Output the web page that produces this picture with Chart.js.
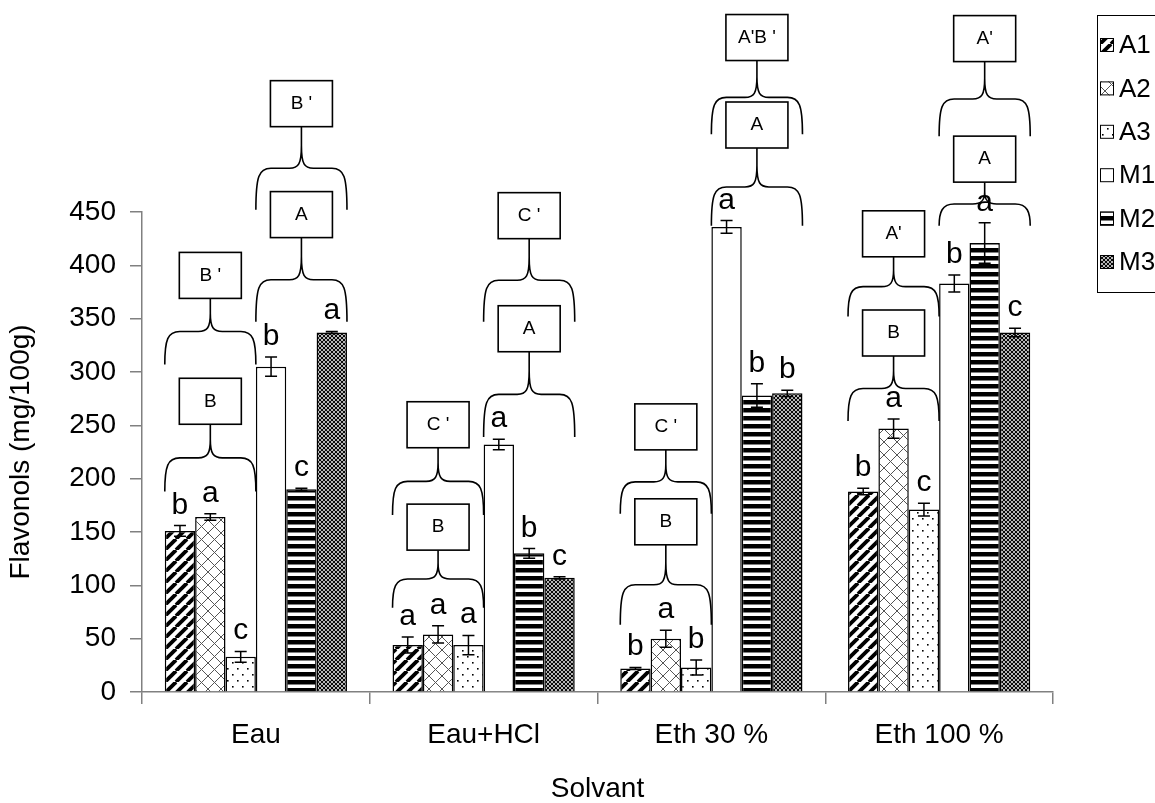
<!DOCTYPE html>
<html>
<head>
<meta charset="utf-8">
<title>Flavonols</title>
<script src="https://cdn.jsdelivr.net/npm/chart.js@4.4.1/dist/chart.umd.min.js"></script>
<style>
  html, body { margin: 0; padding: 0; background: #fff; }
  #wrap { width: 1155px; height: 803px; }
</style>
</head>
<body>
<div id="wrap"><canvas id="chart" width="1155" height="803"></canvas></div>
<script>
// -------------------------
// DATA (mg/100g)
// -------------------------
const categories = ["Eau", "Eau+HCl", "Eth 30 %", "Eth 100 %"];
const seriesNames = ["A1", "A2", "A3", "M1", "M2", "M3"];

const valA1 = [151, 44, 22, 188];
const valA2 = [164, 54, 50, 247];
const valA3 = [33, 44, 23, 171];
const valM1 = [305, 232, 436, 383];
const valM2 = [190, 130, 278, 421];
const valM3 = [337, 107, 280, 337];

const errA1 = [5, 7.5, 1, 3];
const errA2 = [3, 8, 8, 9];
const errA3 = [5, 9, 7, 6];
const errM1 = [9, 5, 6, 8];
const errM2 = [1, 4.5, 11, 19];
const errM3 = [1, 1, 3, 4];

const letA1 = ["b", "a", "b", "b"];
const letA2 = ["a", "a", "a", "a"];
const letA3 = ["c", "a", "b", "c"];
const letM1 = ["b", "a", "a", "b"];
const letM2 = ["c", "b", "b", "a"];
const letM3 = ["a", "c", "b", "c"];

// group labels (A1-A3 and M1-M3), brace base and box bottom levels in mg/100g
const innerA = ["B", "B", "B", "B"];
const innerABase = [188, 79, 63, 254];
const innerABox = [251, 133, 138, 315];
const outerA = ["B '", "C '", "C '", "A'"];
const outerABase = [307, 166, 167, 352];
const outerABox = [369, 229, 227, 408];

const innerM = ["A", "A", "A", "A"];
const innerMBase = [347, 239, 437, 437];
const innerMBox = [426, 319, 510, 478];
const outerM = ["B '", "C '", "A'B '", "A'"];
const outerMBase = [452, 347, 523, 521];
const outerMBox = [530, 425, 592, 591];

const yTicks = [0, 50, 100, 150, 200, 250, 300, 350, 400, 450];

// -------------------------
// Patterns
// -------------------------
const FONT = "'Liberation Sans', Arial, sans-serif";
const axisGray = "#808080";
const ctxMain = document.getElementById("chart").getContext("2d");

function makePattern(w, h, draw) {
  const c = document.createElement("canvas");
  c.width = w; c.height = h;
  const g = c.getContext("2d");
  g.fillStyle = "#fff";
  g.fillRect(0, 0, w, h);
  draw(g, w, h);
  return ctxMain.createPattern(c, "repeat");
}
function diag(g, w, h, up) {
  for (let k = -1; k <= 1; k++) {
    g.beginPath();
    if (up) { g.moveTo(k * w, h); g.lineTo(k * w + w, 0); }
    else { g.moveTo(k * w, 0); g.lineTo(k * w + w, h); }
    g.stroke();
  }
}
const patA1 = makePattern(11, 11, (g, w, h) => { g.strokeStyle = "#000"; g.lineWidth = 3.8; diag(g, w, h, true); });
const patA2 = makePattern(13, 13, (g, w, h) => { g.strokeStyle = "#555"; g.lineWidth = 1; diag(g, w, h, true); diag(g, w, h, false); });
const patA3 = makePattern(10, 12, g => { g.fillStyle = "#000"; g.fillRect(2, 2, 1.6, 1.6); g.fillRect(7, 8, 1.6, 1.6); });
const patM2 = makePattern(6, 8, g => { g.fillStyle = "#000"; g.fillRect(0, 0, 6, 4.5); });
const patM3 = makePattern(4, 4, (g, w, h) => { g.strokeStyle = "#000"; g.lineWidth = 1.1; diag(g, w, h, true); diag(g, w, h, false); });

const values = [valA1, valA2, valA3, valM1, valM2, valM3];
const errors = [errA1, errA2, errA3, errM1, errM2, errM3];
const letters = [letA1, letA2, letA3, letM1, letM2, letM3];
const fills = [patA1, patA2, patA3, "#fff", patM2, patM3];

// -------------------------
// Plugins
// -------------------------
function drawBrace(ctx, x0, x1, yBase, yPeak) {
  const xc = (x0 + x1) / 2;
  const yMid = (yBase + yPeak) / 2;
  const up = (yMid - yPeak) * 0.55;
  ctx.beginPath();
  ctx.moveTo(x0, yBase);
  ctx.bezierCurveTo(x0, yMid + 8, x0 + 3, yMid, x0 + 15, yMid);
  ctx.lineTo(xc - 12, yMid);
  ctx.bezierCurveTo(xc - 3, yMid, xc, yMid - 4, xc, yMid - up);
  ctx.lineTo(xc, yPeak);
  ctx.moveTo(x1, yBase);
  ctx.bezierCurveTo(x1, yMid + 8, x1 - 3, yMid, x1 - 15, yMid);
  ctx.lineTo(xc + 12, yMid);
  ctx.bezierCurveTo(xc + 3, yMid, xc, yMid - 4, xc, yMid - up);
  ctx.stroke();
}

function drawBox(ctx, xc, yBottom, text) {
  const w = 62, h = 46;
  ctx.fillStyle = "#fff";
  ctx.fillRect(xc - w / 2, yBottom - h, w, h);
  ctx.strokeRect(xc - w / 2, yBottom - h, w, h);
  ctx.fillStyle = "#000";
  ctx.font = "19px " + FONT;
  ctx.textAlign = "center";
  ctx.textBaseline = "middle";
  ctx.fillText(text, xc, yBottom - h / 2);
}

const extrasPlugin = {
  id: "extras",
  afterDatasetsDraw(chart) {
    const ctx = chart.ctx;
    const y = chart.scales.y;
    ctx.save();
    ctx.strokeStyle = "#000";
    ctx.lineWidth = 1.5;
    // error bars and letters
    chart.data.datasets.forEach((ds, di) => {
      const meta = chart.getDatasetMeta(di);
      meta.data.forEach((bar, i) => {
        const v = values[di][i], e = errors[di][i];
        const yt = y.getPixelForValue(v + e), yb = y.getPixelForValue(v - e);
        ctx.beginPath();
        ctx.moveTo(bar.x, yt); ctx.lineTo(bar.x, yb);
        ctx.moveTo(bar.x - 6, yt); ctx.lineTo(bar.x + 6, yt);
        ctx.moveTo(bar.x - 6, yb); ctx.lineTo(bar.x + 6, yb);
        ctx.stroke();
        ctx.fillStyle = "#000";
        ctx.font = "30px " + FONT;
        ctx.textAlign = "center";
        ctx.textBaseline = "alphabetic";
        ctx.fillText(letters[di][i], bar.x, yt - 12);
      });
    });
    // braces and boxes
    const groups = [
      { first: 0, last: 2, levels: [[innerA, innerABase, innerABox], [outerA, outerABase, outerABox]] },
      { first: 3, last: 5, levels: [[innerM, innerMBase, innerMBox], [outerM, outerMBase, outerMBox]] }
    ];
    ctx.lineWidth = 1.6;
    categories.forEach((c, i) => {
      groups.forEach(gr => {
        const b0 = chart.getDatasetMeta(gr.first).data[i];
        const b1 = chart.getDatasetMeta(gr.last).data[i];
        const x0 = b0.x - b0.width / 2, x1 = b1.x + b1.width / 2;
        const xc = (x0 + x1) / 2;
        gr.levels.forEach(([labels, base, box]) => {
          ctx.strokeStyle = "#000";
          drawBrace(ctx, x0, x1, y.getPixelForValue(base[i]), y.getPixelForValue(box[i]));
          drawBox(ctx, xc, y.getPixelForValue(box[i]), labels[i]);
        });
      });
    });
    ctx.restore();
  },
  afterDraw(chart) {
    // legend with frame
    const ctx = chart.ctx;
    ctx.save();
    ctx.strokeStyle = "#000";
    ctx.lineWidth = 1;
    ctx.strokeRect(1097.5, 15.5, 80, 277);
    chart.data.datasets.forEach((ds, i) => {
      const cy = 45 + i * 43.4;
      ctx.fillStyle = ds.backgroundColor;
      ctx.fillRect(1100, cy - 7, 14, 14);
      ctx.strokeRect(1100.5, cy - 6.5, 13, 13);
      ctx.fillStyle = "#000";
      ctx.font = "26px " + FONT;
      ctx.textAlign = "left";
      ctx.textBaseline = "middle";
      ctx.fillText(ds.label, 1119, cy + 1);
    });
    ctx.restore();
  }
};

// -------------------------
// Chart
// -------------------------
new Chart(ctxMain, {
  type: "bar",
  data: {
    labels: categories,
    datasets: seriesNames.map((name, i) => ({
      label: name,
      data: values[i],
      backgroundColor: fills[i],
      borderColor: "#000",
      borderWidth: 1.5,
      categoryPercentage: 0.8,
      barPercentage: 1.0
    }))
  },
  options: {
    responsive: false,
    animation: false,
    layout: { padding: { top: 212, right: 102, left: 0, bottom: 0 } },
    plugins: { legend: { display: false }, tooltip: { enabled: false } },
    scales: {
      x: {
        grid: { display: true, drawOnChartArea: false, offset: true, tickLength: 12, color: axisGray, lineWidth: 1.5 },
        border: { color: axisGray, width: 1.5 },
        ticks: { color: "#000", font: { size: 28, family: FONT }, padding: 14, maxRotation: 0 },
        title: { display: true, text: "Solvant", color: "#000", font: { size: 28, family: FONT, lineHeight: 1 }, padding: { top: 0, bottom: 0 } },
        afterFit: s => { s.height = 111; }
      },
      y: {
        min: 0,
        max: 450,
        afterBuildTicks: s => { s.ticks = yTicks.map(v => ({ value: v })); },
        grid: { display: true, drawOnChartArea: false, tickLength: 12, color: axisGray, lineWidth: 1.5 },
        border: { color: axisGray, width: 1.5 },
        ticks: { color: "#000", font: { size: 28, family: FONT }, padding: 14 },
        title: { display: true, text: "Flavonols (mg/100g)", color: "#000", font: { size: 28, family: FONT }, padding: { bottom: 4 } },
        afterFit: s => { s.width = 142; }
      }
    }
  },
  plugins: [extrasPlugin]
});
</script>
</body>
</html>
